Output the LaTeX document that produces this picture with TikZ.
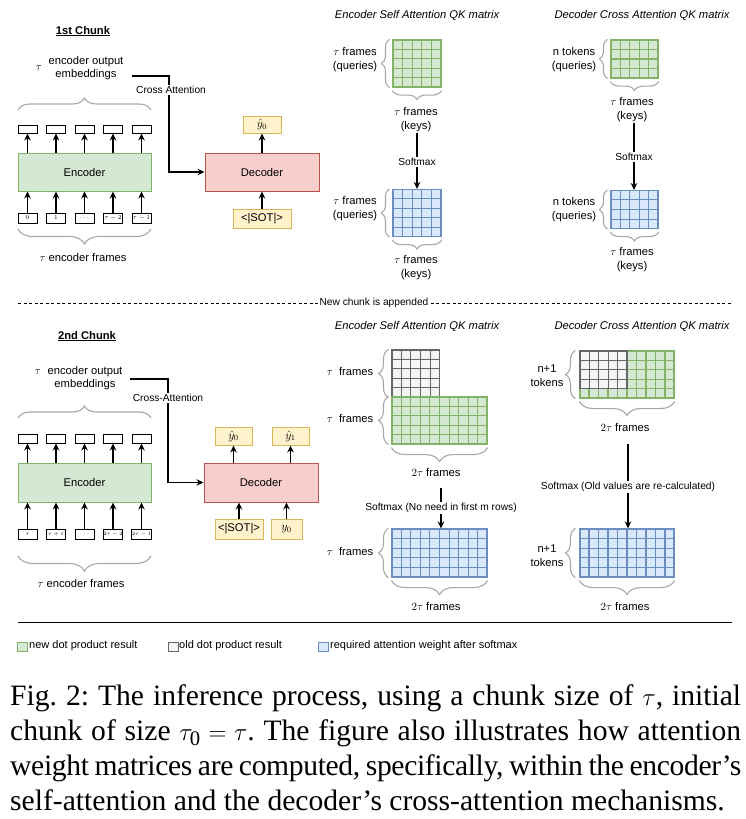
\documentclass[tikz,border=0pt]{standalone}
\usepackage{fontspec}
\setmainfont{Liberation Serif}
\newfontfamily\arialf{Liberation Sans}
\usetikzlibrary{decorations.pathreplacing,arrows.meta,calc}
\definecolor{gF}{HTML}{D5E8D4}
\definecolor{gD}{HTML}{82B366}
\definecolor{rF}{HTML}{F8CECC}
\definecolor{rD}{HTML}{B85450}
\definecolor{yF}{HTML}{FFF2CC}
\definecolor{yD}{HTML}{D6B656}
\definecolor{bF}{HTML}{DAE8FC}
\definecolor{bD}{HTML}{6C8EBF}
\definecolor{kF}{HTML}{F5F5F5}
\definecolor{kD}{HTML}{666666}
\definecolor{brC}{HTML}{A8A8A8}
\newcommand\gridlines[4]{%
  \pgfmathtruncatemacro\mygc{#2-1}\pgfmathtruncatemacro\mygr{#3-1}%
  \foreach \i in {1,...,\mygc} \draw[#4, line width=1.1pt] ($(#1.north west)!\i/#2!(#1.north east)$) -- ($(#1.south west)!\i/#2!(#1.south east)$);
  \foreach \j in {1,...,\mygr} \draw[#4, line width=1.1pt] ($(#1.north west)!\j/#3!(#1.south west)$) -- ($(#1.north east)!\j/#3!(#1.south east)$);
}
\newcommand\capline[1]{\frenchspacing\spaceskip=0.25em plus 0.4em minus 0.14em\makebox[731pt][s]{#1}}
\begin{document}
\begin{tikzpicture}[x=1pt,y=-1pt,
 lbl/.style={font=\arialf\fontsize{11.2}{14}\selectfont, inner sep=0pt, align=center},
 slbl/.style={font=\arialf\fontsize{10.2}{12}\selectfont, inner sep=1.5pt, fill=white},
 hdr/.style={font=\arialf\itshape\fontsize{11.2}{14}\selectfont, inner sep=0pt},
 ttl/.style={font=\arialf\bfseries\fontsize{11.2}{14}\selectfont, inner sep=0pt},
 arr/.style={draw=black, line width=1.2pt, -{Stealth[length=7pt,width=6.5pt]}},
 brc/.style={draw=brC, line width=1.1pt, decorate, decoration={brace, amplitude=#1}},
 brc/.default=9pt,
 encbox/.style={draw=gD, fill=gF, line width=1pt, inner sep=0pt, font=\arialf\fontsize{11.2}{14}\selectfont},
 decbox/.style={draw=rD, fill=rF, line width=1pt, inner sep=0pt, font=\arialf\fontsize{11.2}{14}\selectfont},
 ybox/.style={draw=yD, fill=yF, line width=1pt, inner sep=0pt, font=\arialf\fontsize{12}{14}\selectfont},
 obox/.style={draw=black, fill=white, line width=1pt, minimum width=19pt, minimum height=8pt, inner sep=0pt},
 ibox/.style={obox, minimum height=10pt, font=\fontsize{6}{6}\selectfont},
 gm/.style={draw=gD, fill=gF, line width=1.1pt, inner sep=0pt},
 bm/.style={draw=bD, fill=bF, line width=1.1pt, inner sep=0pt},
 km/.style={draw=kD, fill=kF, line width=1.1pt, inner sep=0pt},
 captxt/.style={font=\fontsize{29.6}{35}\selectfont, inner sep=0pt, anchor=base west},
 lgsq/.style={inner sep=0pt, minimum width=10pt, minimum height=9pt, line width=1pt},
 lgtxt/.style={font=\arialf\fontsize{11}{13}\selectfont, inner sep=0pt, anchor=west},
]
\fill[white] (0,0) rectangle (745,819);
\useasboundingbox (0,0) rectangle (745,819);

% ================= 1st chunk =================
\node[ttl] (t1) at (83,31) {\underline{1st Chunk}};
\node[lbl, font=\arialf\fontsize{11.2}{13}\selectfont] (emb1) at (86,68.5) {encoder output\\embeddings};
\node[lbl] (tau1) at (39,68) {$\tau$};
\coordinate (b1l) at (18,110); \coordinate (b1r) at (151,110);
\draw[brc=12pt] (b1l) -- (b1r);
\foreach \k/\x in {1/27.5,2/56,3/84.5,4/113,5/141.5}
  \node[obox] (o1\k) at (\x,129) {};
\node[encbox, minimum width=133pt, minimum height=38pt] (enc1) at (84.5,172) {Encoder};
\foreach \k in {1,...,5} \draw[arr] (o1\k.south |- enc1.north) -- (o1\k.south);
\node[ibox] (i11) at (27.5,218) {$0$};
\node[ibox] (i12) at (56,218) {$1$};
\node[ibox] (i13) at (84.5,218) {$\dots$};
\node[ibox] (i14) at (113,218) {$\tau-2$};
\node[ibox] (i15) at (141.5,218) {$\tau-1$};
\foreach \k in {1,...,5} \draw[arr] (i1\k.north) -- (i1\k.north |- enc1.south);
\coordinate (b2l) at (18,229); \coordinate (b2r) at (151,229);
\draw[brc=15pt] (b2r) -- (b2l);
\node[lbl] (ef1) at (83,257) {$\tau$ encoder frames};

\node[decbox, minimum width=114pt, minimum height=38pt] (dec1) at (262,172) {Decoder};
\node[ybox, minimum width=38pt, minimum height=17pt] (yh1) at (262,124.5) {$\hat{y}_0$};
\node[ybox, font=\arialf\fontsize{11.2}{14}\selectfont, minimum width=58pt, minimum height=19pt] (sot1) at (262,218.5) {<|SOT|>};
\draw[arr] (dec1.north) -- (yh1.south);
\draw[arr] (sot1.north) -- (dec1.south);
\coordinate (ca1) at (132,76);
\draw[arr] (ca1) -- ++(37,0) |- (dec1.west);
\node[slbl] (cal1) at (171,90) {Cross Attention};

% ESA 1
\node[hdr] (h1) at (417,16) {Encoder Self Attention QK matrix};
\node[gm, minimum width=48pt, minimum height=47pt] (esa1a) at (417,63.5) {};
\gridlines{esa1a}{5}{5}{gD}
\draw[brc=8pt] ([xshift=-3pt]esa1a.south west) -- ([xshift=-3pt]esa1a.north west);
\node[lbl] (q1) at (355,59.5) {$\tau$ frames\\(queries)};
\draw[brc=9pt] ([yshift=-3pt]esa1a.south east) -- ([yshift=-3pt]esa1a.south west);
\node[lbl] (k1) at (416,119.5) {$\tau$ frames\\(keys)};
\node[bm, minimum width=48pt, minimum height=47pt] (esa1b) at (417,213) {};
\gridlines{esa1b}{5}{5}{bD}
\coordinate (s1) at (417,133);
\draw[arr] (s1) -- (esa1b.north);
\node[slbl] (sm1) at (417,162) {Softmax};
\draw[brc=8pt] ([xshift=-3pt]esa1b.south west) -- ([xshift=-3pt]esa1b.north west);
\node[lbl] (q2) at (355,209) {$\tau$ frames\\(queries)};
\draw[brc=9pt] ([yshift=-3pt]esa1b.south east) -- ([yshift=-3pt]esa1b.south west);
\node[lbl] (k2) at (416,268) {$\tau$ frames\\(keys)};

% DCA 1
\node[hdr] (h2) at (642,16) {Decoder Cross Attention QK matrix};
\node[gm, minimum width=47pt, minimum height=38pt] (dca1a) at (634.5,59) {};
\gridlines{dca1a}{5}{4}{gD}
\draw[brc=8pt] ([xshift=-3pt]dca1a.south west) -- ([xshift=-3pt]dca1a.north west);
\node[lbl] (q3) at (574,59.5) {n tokens\\(queries)};
\draw[brc=9pt] ([yshift=-3pt]dca1a.south east) -- ([yshift=-3pt]dca1a.south west);
\node[lbl] (k3) at (632,110) {$\tau$ frames\\(keys)};
\node[bm, minimum width=47pt, minimum height=38pt] (dca1b) at (634.5,209.5) {};
\gridlines{dca1b}{5}{4}{bD}
\coordinate (s2) at (634,123);
\draw[arr] (s2) -- (s2 |- dca1b.north);
\node[slbl] (sm2) at (634,157) {Softmax};
\draw[brc=8pt] ([xshift=-3pt]dca1b.south west) -- ([xshift=-3pt]dca1b.north west);
\node[lbl] (q4) at (574,209.5) {n tokens\\(queries)};
\draw[brc=9pt] ([yshift=-3pt]dca1b.south east) -- ([yshift=-3pt]dca1b.south west);
\node[lbl] (k4) at (632,260) {$\tau$ frames\\(keys)};

% separator
\coordinate (dl) at (18,303); \coordinate (dr) at (732,303);
\draw[line width=0.9pt, dash pattern=on 3pt off 2.5pt] (dl) -- (dr);
\node[slbl, inner sep=0.5pt] (newc) at (374,302.5) {New chunk is appended};

% ================= 2nd chunk =================
\node[ttl] (t2) at (87,336) {\underline{2nd Chunk}};
\node[lbl, font=\arialf\fontsize{11.2}{13}\selectfont] (emb2) at (85,378) {encoder output\\embeddings};
\node[lbl] (tau2) at (38,372) {$\tau$};
\coordinate (b3l) at (18,418); \coordinate (b3r) at (151,418);
\draw[brc=12pt] (b3l) -- (b3r);
\foreach \k/\x in {1/27.5,2/56,3/84.5,4/113,5/141.5}
  \node[obox, minimum height=9pt] (o2\k) at (\x,438.5) {};
\node[encbox, minimum width=133pt, minimum height=39pt] (enc2) at (84.5,482.5) {Encoder};
\foreach \k in {1,...,5} \draw[arr] (o2\k.south |- enc2.north) -- (o2\k.south);
\node[ibox, font=\fontsize{5}{5}\selectfont] (i21) at (27.5,534.5) {$\tau$};
\node[ibox, font=\fontsize{5}{5}\selectfont] (i22) at (56,534.5) {$\tau+1$};
\node[ibox, font=\fontsize{5}{5}\selectfont] (i23) at (84.5,534.5) {$\dots$};
\node[ibox, font=\fontsize{5}{5}\selectfont] (i24) at (113,534.5) {$2\tau-2$};
\node[ibox, font=\fontsize{5}{5}\selectfont] (i25) at (141.5,534.5) {$2\tau-1$};
\foreach \k in {1,...,5} \draw[arr] (i2\k.north) -- (i2\k.north |- enc2.south);
\coordinate (b4l) at (18,556); \coordinate (b4r) at (151,556);
\draw[brc=15pt] (b4r) -- (b4l);
\node[lbl] (ef2) at (81,583) {$\tau$ encoder frames};

\node[decbox, minimum width=114pt, minimum height=39pt] (dec2) at (261,482.5) {Decoder};
\node[ybox, minimum width=37pt, minimum height=18pt] (yh20) at (233.5,436) {$\hat{y}_0$};
\node[ybox, minimum width=37pt, minimum height=18pt] (yh21) at (290.5,436) {$\hat{y}_1$};
\node[ybox, font=\arialf\fontsize{11.2}{14}\selectfont, minimum width=48pt, minimum height=20pt] (sot2) at (239,529) {<|SOT|>};
\node[ybox, minimum width=31pt, minimum height=20pt] (y20) at (286.5,529) {$y_0$};
\draw[arr] (yh20.south |- dec2.north) -- (yh20.south);
\draw[arr] (yh21.south |- dec2.north) -- (yh21.south);
\draw[arr] (sot2.north) -- (sot2.north |- dec2.south);
\draw[arr] (y20.north) -- (y20.north |- dec2.south);
\coordinate (ca2) at (130,379);
\draw[arr] (ca2) -- ++(38,0) |- (dec2.west);
\node[slbl] (cal2) at (168,398) {Cross-Attention};

% ESA 2
\node[hdr] (h3) at (417,326) {Encoder Self Attention QK matrix};
\node[km, minimum width=47.5pt, minimum height=47pt] (esa2old) at (415.75,373.5) {};
\gridlines{esa2old}{5}{5}{kD}
\node[gm, minimum width=95pt, minimum height=47pt] (esa2new) at (439.5,420.5) {};
\gridlines{esa2new}{10}{5}{gD}
\draw[brc=10pt] ([xshift=-3pt]esa2old.south west) -- ([xshift=-3pt]esa2old.north west);
\draw[brc=10pt] ([xshift=-3pt]esa2new.south west) -- ([xshift=-3pt]esa2new.north west);
\node[lbl] (f1) at (350,371) {$\tau$\ \ frames};
\node[lbl] (f2) at (350,418) {$\tau$\ \ frames};
\draw[brc=14pt] ([yshift=-3pt]esa2new.south east) -- ([yshift=-3pt]esa2new.south west);
\node[lbl] (f3) at (436,472) {$2\tau$ frames};
\node[bm, minimum width=95pt, minimum height=48pt] (esa2b) at (439.5,553) {};
\gridlines{esa2b}{10}{5}{bD}
\coordinate (s3) at (441,488);
\draw[arr] (s3) -- (s3 |- esa2b.north);
\node[slbl] (sm3) at (441,508) {Softmax (No need in first m rows)};
\draw[brc=10pt] ([xshift=-3pt]esa2b.south west) -- ([xshift=-3pt]esa2b.north west);
\node[lbl] (f4) at (350,551) {$\tau$\ \ frames};
\draw[brc=14pt] ([yshift=-3pt]esa2b.south east) -- ([yshift=-3pt]esa2b.south west);
\node[lbl] (f5) at (436,606) {$2\tau$ frames};

% DCA 2
\node[hdr] (h4) at (642,326) {Decoder Cross Attention QK matrix};
\node[gm, minimum width=94pt, minimum height=47pt] (dca2a) at (627,374.5) {};
\gridlines{dca2a}{10}{5}{gD}
\node[km, minimum width=47pt, minimum height=37.6pt] (dca2old) at (603.5,369.8) {};
\gridlines{dca2old}{5}{4}{kD}
\draw[brc=10pt] ([xshift=-4pt]dca2a.south west) -- ([xshift=-4pt]dca2a.north west);
\node[lbl] (n1) at (547,376) {n+1\\tokens};
\draw[brc=14pt] ([yshift=-3pt]dca2a.south east) -- ([yshift=-3pt]dca2a.south west);
\node[lbl] (f6) at (625,427) {$2\tau$ frames};
\node[bm, minimum width=94pt, minimum height=48pt] (dca2b) at (627,553) {};
\gridlines{dca2b}{10}{5}{bD}
\coordinate (s4) at (628,444);
\draw[arr] (s4) -- (s4 |- dca2b.north);
\node[slbl] (sm4) at (628,487) {Softmax (Old values are re-calculated)};
\draw[brc=10pt] ([xshift=-4pt]dca2b.south west) -- ([xshift=-4pt]dca2b.north west);
\node[lbl] (n2) at (547,555.5) {n+1\\tokens};
\draw[brc=14pt] ([yshift=-3pt]dca2b.south east) -- ([yshift=-3pt]dca2b.south west);
\node[lbl] (f7) at (625,606) {$2\tau$ frames};

% bottom rule and legend
\coordinate (rl) at (18,622.5); \coordinate (rr) at (732,622.5);
\draw[line width=1.2pt] (rl) -- (rr);
\node[lgsq, draw=gD, fill=gF] (lg1) at (22,646.5) {};
\node[lgtxt] (lt1) at (29,645.5) {new dot product result};
\node[lgsq, draw=kD, fill=kF] (lg2) at (173,646.5) {};
\node[lgtxt] (lt2) at (179,645.5) {old dot product result};
\node[lgsq, draw=bD, fill=bF] (lg3) at (323.5,646.5) {};
\node[lgtxt] (lt3) at (330,645.5) {required attention weight after softmax};

% caption
\node[captxt] (c1) at (10,705) {\capline{Fig. 2: The inference process, using a chunk size of $\tau$, initial}};
\node[captxt] (c2) at (10,740) {\capline{chunk of size $\tau_{\mathrm{0}}=\tau$. The figure also illustrates how attention}};
\node[captxt] (c3) at (10,775) {\addfontfeatures{LetterSpace=-1.2}\capline{weight matrices are computed, specifically, within the encoder's}};
\node[captxt] (c4) at (10,810) {self-attention and the decoder's cross-attention mechanisms.};
\end{tikzpicture}
\end{document}
